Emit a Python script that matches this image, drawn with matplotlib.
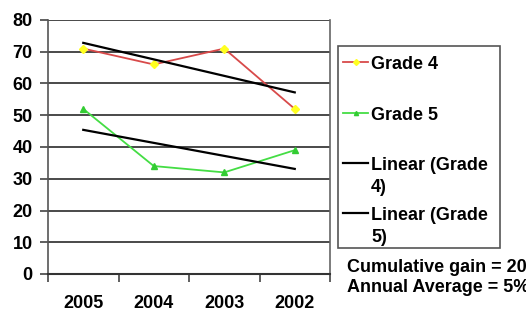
import matplotlib.pyplot as plt
from matplotlib.lines import Line2D
from matplotlib.patches import Rectangle
import numpy as np

plt.rcParams['font.family'] = ['Liberation Sans', 'DejaVu Sans']
plt.rcParams['font.weight'] = 'bold'

years = ['2005', '2004', '2003', '2002']
grade4 = [71, 66, 71, 52]
grade5 = [52, 34, 32, 39]
labels = ['Grade 4', 'Grade 5', 'Linear (Grade\n4)', 'Linear (Grade\n5)']
notes = ['Cumulative gain = 20%', 'Annual Average = 5%']

W, H = 526, 311
x = np.arange(len(years))

fig = plt.figure(figsize=(W / 100, H / 100), dpi=100)
ax = fig.add_axes([48 / W, 1 - 274 / H, 282 / W, 254 / H])

# data series
l4, = ax.plot(x, grade4, color='#d84a4a', lw=1.3, marker='D', ms=4,
              mfc='#ffff20', mec='#ffff20')
l5, = ax.plot(x, grade5, color='#44dd44', lw=1.3, marker='^', ms=4.5,
              mfc='#33cc33', mec='#33cc33')

# linear trendlines (like excel)
p4 = np.polyfit(x, grade4, 1)
p5 = np.polyfit(x, grade5, 1)
t4, = ax.plot(x, np.polyval(p4, x), color='black', lw=1.6)
t5, = ax.plot(x, np.polyval(p5, x), color='black', lw=1.6)

ax.set_xlim(-0.5, len(years) - 0.5)
ax.set_ylim(0, 80)
ax.set_yticks(range(0, 81, 10))
ax.yaxis.grid(True, color='#3a3a3a', lw=1.3)
ax.set_axisbelow(True)

ax.set_xticks(np.arange(-0.5, len(years), 1.0))
ax.set_xticklabels([])
ax.set_xticks(x, minor=True)
ax.set_xticklabels(years, minor=True)
ax.tick_params(axis='x', which='major', length=6, width=1.2, color='#444444')
ax.tick_params(axis='x', which='minor', length=0, pad=15, labelsize=13)
ax.tick_params(axis='y', length=6, width=1.2, color='#444444', labelsize=13, pad=5)

ax.spines['top'].set_visible(False)
ax.spines['right'].set_color('#666666')
ax.spines['left'].set_color('#555555')
ax.spines['bottom'].set_color('#333333')
ax.spines['left'].set_linewidth(1.2)
ax.spines['bottom'].set_linewidth(1.5)
ax.spines['right'].set_linewidth(1.2)

# legend drawn by hand so the handle sits on the first text line
def fx(px):
    return px / W

def fy(py):
    return 1 - py / H

fig.patches.append(Rectangle((fx(338), fy(248)), fx(500) - fx(338), fy(46) - fy(248),
                             transform=fig.transFigure, fill=False,
                             edgecolor='#555555', lw=1.2))
rows = [62, 113, 163, 213]
for line, lab, yy in zip([l4, l5, t4, t5], labels, rows):
    fig.lines.append(Line2D([fx(343), fx(368)], [fy(yy), fy(yy)], transform=fig.transFigure,
                            color=line.get_color(), lw=line.get_linewidth()))
    if line.get_marker() not in (None, 'None', ''):
        fig.lines.append(Line2D([fx(355.5)], [fy(yy)], transform=fig.transFigure,
                                marker=line.get_marker(), ms=3,
                                mfc=line.get_markerfacecolor(), mec=line.get_markeredgecolor(),
                                ls='none'))
    fig.text(fx(371), fy(yy - 6), lab, fontsize=13, fontweight='bold',
             va='top', ha='left', linespacing=1.35)

fig.text(fx(347), fy(267), notes[0], fontsize=13, fontweight='bold', va='center')
fig.text(fx(347), fy(288), notes[1], fontsize=13, fontweight='bold', va='center')

fig.savefig('out.png', dpi=100)
